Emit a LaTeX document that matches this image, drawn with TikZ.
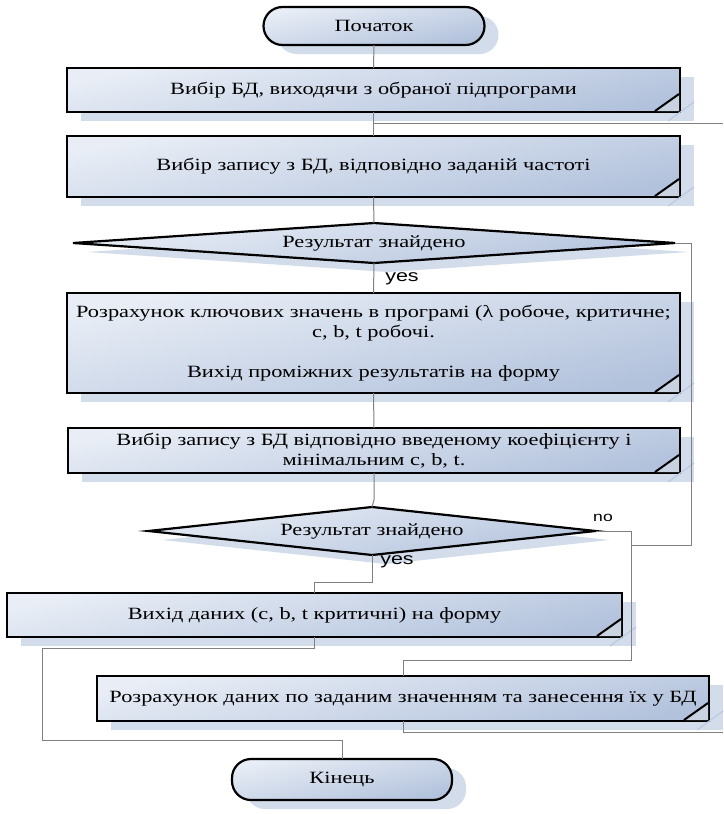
\documentclass[tikz,border=0pt]{standalone}
\usepackage{fontspec}
\setmainfont{Liberation Serif}[FakeStretch=1.3]
\newfontfamily\lsans{Liberation Sans}[FakeStretch=1.3]
\usetikzlibrary{shapes.geometric,shadows}
\definecolor{boxtop}{HTML}{E9EEF6}
\definecolor{boxbot}{HTML}{B2C2DC}
\definecolor{shadowblue}{HTML}{D2DCEB}
\definecolor{shadowline}{HTML}{B9CAE3}
\definecolor{linegray}{HTML}{808080}
\definecolor{foldfill}{HTML}{C8D2E0}
\tikzset{
  blk/.style={draw=black, line width=2.2pt, outer sep=0pt, inner sep=0pt,
    align=center, font=\fontsize{17.2}{20}\selectfont,
    top color=boxtop, bottom color=boxbot, shading angle=12,
    drop shadow={shadow xshift=14pt, shadow yshift=-9pt, fill=shadowblue, opacity=1}},
  procbox/.style={blk, rectangle},
  termbox/.style={blk, rectangle, rounded corners=19pt},
  decbox/.style={blk, diamond},
  conn/.style={draw=linegray, line width=1pt},
  lbl/.style={font=\lsans\fontsize{16.5}{19}\selectfont, inner sep=0pt},
  foldtri/.style={fill=foldfill},
  foldedge/.style={draw=black, line width=2pt},
  foldshadow/.style={draw=shadowline, line width=1.2pt}
}
\newcommand{\foldcorner}[1]{%
  \fill[foldtri] ([xshift=-25pt,yshift=1pt]#1.south east) -- ([xshift=-1pt,yshift=18pt]#1.south east) -- ([xshift=-1pt,yshift=1pt]#1.south east) -- cycle;
  \draw[foldedge] ([xshift=-25pt,yshift=1pt]#1.south east) -- ([xshift=-1pt,yshift=18pt]#1.south east);
  \draw[foldshadow] ([xshift=-12pt,yshift=-9pt]#1.south east) -- ([xshift=14pt,yshift=10pt]#1.south east);
}
\begin{document}
\begin{tikzpicture}[x=1pt,y=-1pt]
\useasboundingbox[fill=white] (0,0) rectangle (723,814);

\node[termbox, minimum width=221pt, minimum height=38pt] (start) at (374,26) {Початок};
\node[procbox, minimum width=613pt, minimum height=44pt] (b1) at (373.5,90) {Вибір БД, виходячи з обраної підпрограми};
\node[procbox, minimum width=613pt, minimum height=61pt] (b2) at (373.5,166.5) {Вибір запису з БД, відповідно заданій частоті};
\node[decbox, shape aspect=15, minimum width=602pt, minimum height=40pt] (d1) at (374,243) {Результат знайдено};
\node[procbox, minimum width=613pt, minimum height=100pt] (b3) at (373.5,343) {Розрахунок ключових значень в програмі (λ робоче, критичне;\\ c, b, t робочі.\\[20pt] Вихід проміжних результатів на форму};
\node[procbox, minimum width=612pt, minimum height=45pt] (b4) at (374,450.5) {Вибір запису з БД відповідно введеному коефіцієнту і\\ мінімальним c, b, t.};
\node[decbox, shape aspect=9.3, minimum width=447pt, minimum height=48pt] (d2) at (372,531) {Результат знайдено};
\node[procbox, minimum width=615pt, minimum height=44pt] (b5) at (314.5,615) {Вихід даних (c, b, t критичні) на форму};
\node[procbox, minimum width=612pt, minimum height=45pt] (b6) at (403,698.5) {Розрахунок даних по заданим значенням та занесення їх у БД};
\node[termbox, minimum width=220pt, minimum height=41pt] (end) at (342,779.5) {Кінець};

\foldcorner{b1}
\foldcorner{b2}
\foldcorner{b3}
\foldcorner{b4}
\foldcorner{b5}
\foldcorner{b6}

\coordinate (j1) at (374,123);
\coordinate (r1) at (723,123);
\coordinate (no1) at (691,545);
\coordinate (jn) at (631,545);
\coordinate (jr) at (631,660);
\coordinate (lc) at (42,740);
\coordinate (r2) at (723,732);

\draw[conn] (start.south) -- (b1.north);
\draw[conn] (b1.south) -- (b2.north);
\draw[conn] (j1) -- (r1);
\draw[conn] (b2.south) -- (d1.north);
\draw[conn] (d1.south) -- (b3.north);
\draw[conn] (d1.east) -| (no1) -- (jn);
\draw[conn] (b3.south) -- (b4.north);
\draw[conn] (b4.south) -- ++(0,27) -- (d2.north);
\draw[conn] (d2.east) -| (jr) -| (b6.north);
\draw[conn] (d2.south) -- ++(0,27) -| (b5.north);
\draw[conn] (b5.south) -- ++(0,11) -| (lc) -| (end.north);
\draw[conn] (b6.south) -- ++(0,11) -- (r2);

\node[lbl] (yes1) at (402,279) {yes};
\node[lbl] (yes2) at (397,562) {yes};
\node[lbl, font=\lsans\fontsize{13.5}{16}\selectfont] (no2) at (603,518) {no};
\end{tikzpicture}
\end{document}
